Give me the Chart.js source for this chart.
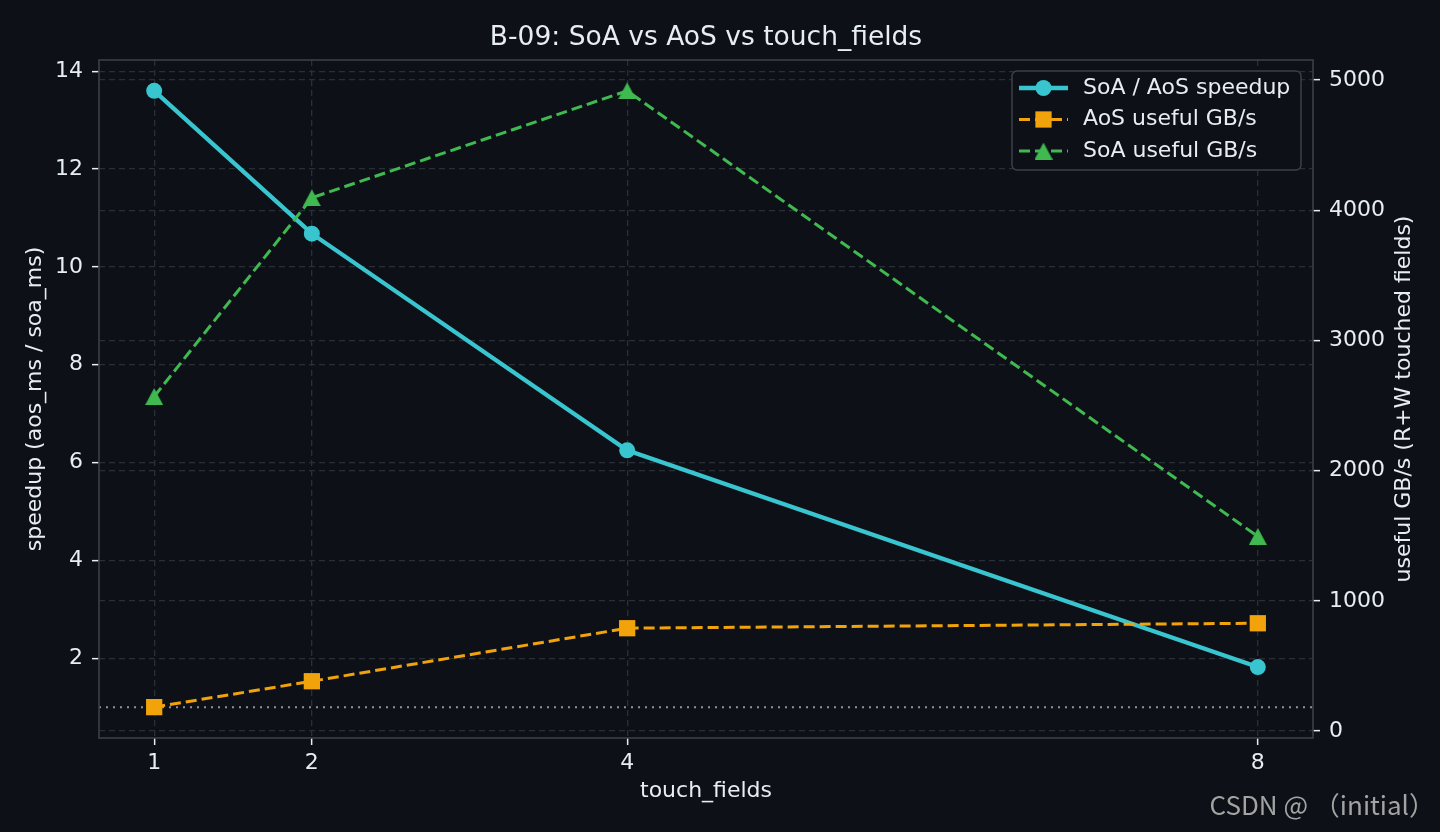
<!DOCTYPE html>
<html lang="en">
<head>
<meta charset="UTF-8">
<title>B-09: SoA vs AoS vs touch_fields</title>
<script src="https://cdn.jsdelivr.net/npm/chart.js"></script>
<style>
    html, body { margin: 0; padding: 0; background: #0d1117; }
    #grafico { display: block; }
</style>
</head>
<body>
<canvas id="grafico" width="1440" height="832"></canvas>

<script>
    // data
    const touchFields = [1, 2, 4, 8];
    const speedup = [13.6, 10.68, 6.25, 1.82];
    const aosGBs = [184, 383, 790, 828];
    const soaGBs = [2569, 4095, 4916, 1495];

    const xTicks = [1, 2, 4, 8];
    const leftTicks = [2, 4, 6, 8, 10, 12, 14];
    const rightTicks = [0, 1000, 2000, 3000, 4000, 5000];
    const baseline = 1;

    const BG = '#0d1117';
    const TXT = '#e6edf3';
    const GRID = '#2a2f37';
    const SPINE = '#3b4048';
    const CYAN = '#39c5cf';
    const ORANGE = '#f2a30c';
    const GREEN = '#3fb950';
    const FONT = 'DejaVu Sans';

    // matplotlib style "^" marker
    const tri = document.createElement('canvas');
    tri.width = 18; tri.height = 17;
    const tctx = tri.getContext('2d');
    tctx.fillStyle = GREEN;
    tctx.beginPath();
    tctx.moveTo(9, 0); tctx.lineTo(18, 17); tctx.lineTo(0, 17);
    tctx.closePath(); tctx.fill();

    const pares = (ys) => touchFields.map((x, i) => ({ x: x, y: ys[i] }));

    const tickFont = { family: FONT, size: 22 };

    function eixoGrid() {
        return {
            color: GRID,
            lineWidth: 1.3,
            drawTicks: true,
            tickLength: 7,
            tickWidth: 1.5,
            tickColor: TXT,
            tickBorderDash: []
        };
    }

    const enfeites = {
        id: 'enfeites',
        beforeDraw(chart) {
            const ctx = chart.ctx;
            ctx.save();
            ctx.fillStyle = BG;
            ctx.fillRect(0, 0, chart.width, chart.height);
            ctx.restore();
        },
        beforeDatasetsDraw(chart) {
            const ctx = chart.ctx;
            const a = chart.chartArea;
            const y = chart.scales.yL.getPixelForValue(baseline);
            ctx.save();
            ctx.strokeStyle = '#8b949e';
            ctx.lineWidth = 2;
            ctx.setLineDash([2, 5]);
            ctx.beginPath();
            ctx.moveTo(a.left, y);
            ctx.lineTo(a.right, y);
            ctx.stroke();
            ctx.restore();
        },
        afterDraw(chart) {
            const ctx = chart.ctx;
            const a = chart.chartArea;
            ctx.save();

            // frame
            ctx.strokeStyle = SPINE;
            ctx.lineWidth = 1.6;
            ctx.strokeRect(a.left, a.top, a.right - a.left, a.bottom - a.top);

            // title
            ctx.fillStyle = TXT;
            ctx.font = '26.5px "' + FONT + '"';
            ctx.textAlign = 'center';
            ctx.textBaseline = 'middle';
            ctx.fillText('B-09: SoA vs AoS vs touch_fields', (a.left + a.right) / 2, 38);

            // right axis title (reads bottom to top, like matplotlib)
            ctx.font = '22px "' + FONT + '"';
            ctx.translate(1404, (a.top + a.bottom) / 2);
            ctx.rotate(-Math.PI / 2);
            ctx.fillText('useful GB/s (R+W touched fields)', 0, 0);
            ctx.setTransform(1, 0, 0, 1, 0, 0);

            // legend
            const lx = 1012, ly = 71, lw = 289, lh = 99;
            ctx.fillStyle = BG;
            ctx.strokeStyle = SPINE;
            ctx.lineWidth = 1.5;
            ctx.beginPath();
            ctx.roundRect(lx, ly, lw, lh, 5);
            ctx.fill();
            ctx.stroke();

            const linhas = [88, 119.5, 151];
            chart.data.datasets.forEach((ds, i) => {
                const y = linhas[i];
                ctx.strokeStyle = ds.borderColor;
                ctx.lineWidth = ds.borderWidth;
                ctx.setLineDash(ds.borderDash || []);
                ctx.beginPath();
                ctx.moveTo(1019, y);
                ctx.lineTo(1068, y);
                ctx.stroke();
                ctx.setLineDash([]);
                ctx.fillStyle = ds.borderColor;
                if (ds.pointStyle === 'circle') {
                    ctx.beginPath();
                    ctx.arc(1043.5, y, ds.pointRadius, 0, Math.PI * 2);
                    ctx.fill();
                } else if (ds.pointStyle === 'rect') {
                    const s = ds.pointRadius * Math.SQRT1_2;
                    ctx.fillRect(1043.5 - s, y - s, 2 * s, 2 * s);
                } else {
                    ctx.drawImage(ds.pointStyle, 1043.5 - tri.width / 2, y - tri.height / 2);
                }
                ctx.fillStyle = TXT;
                ctx.font = '22px "' + FONT + '"';
                ctx.textAlign = 'left';
                ctx.textBaseline = 'middle';
                ctx.fillText(ds.label, 1083, y);
            });

            // watermark
            ctx.fillStyle = '#a3a3a3';
            ctx.font = '26px "Noto Sans CJK SC"';
            ctx.textAlign = 'right';
            ctx.textBaseline = 'alphabetic';
            ctx.fillText('CSDN @ （initial）', 1435, 815);

            ctx.restore();
        }
    };

    new Chart(document.getElementById('grafico'), {
        type: 'line',
        data: {
            datasets: [{
                label: 'SoA / AoS speedup',
                data: pares(speedup),
                yAxisID: 'yL',
                borderColor: CYAN,
                backgroundColor: CYAN,
                borderWidth: 4.3,
                pointStyle: 'circle',
                pointRadius: 8,
                pointBorderWidth: 0,
                order: 3
            }, {
                label: 'AoS useful GB/s',
                data: pares(aosGBs),
                yAxisID: 'yR',
                borderColor: ORANGE,
                backgroundColor: ORANGE,
                borderWidth: 3,
                borderDash: [11, 5],
                pointStyle: 'rect',
                pointRadius: 11.5,
                pointBorderWidth: 0,
                order: 2
            }, {
                label: 'SoA useful GB/s',
                data: pares(soaGBs),
                yAxisID: 'yR',
                borderColor: GREEN,
                backgroundColor: GREEN,
                borderWidth: 3,
                borderDash: [11, 5],
                pointStyle: tri,
                pointRadius: 9,
                pointBorderWidth: 0,
                order: 1
            }]
        },
        options: {
            responsive: false,
            animation: false,
            devicePixelRatio: 1,
            layout: { padding: { top: 60, left: 0, right: 0, bottom: 0 } },
            plugins: {
                legend: { display: false },
                tooltip: { enabled: false },
                title: { display: false }
            },
            scales: {
                x: {
                    type: 'linear',
                    min: 0.65,
                    max: 8.35,
                    afterBuildTicks: (s) => { s.ticks = xTicks.map(v => ({ value: v })); },
                    afterFit: (s) => { s.height = 94; },
                    ticks: { color: TXT, font: tickFont, padding: 5, maxRotation: 0 },
                    grid: eixoGrid(),
                    border: { display: false, dash: [6, 4] },
                    title: {
                        display: true,
                        text: 'touch_fields',
                        color: TXT,
                        font: { family: FONT, size: 22 },
                        padding: { top: 0, bottom: 28 }
                    }
                },
                yL: {
                    type: 'linear',
                    position: 'left',
                    min: 0.37,
                    max: 14.23,
                    afterBuildTicks: (s) => { s.ticks = leftTicks.map(v => ({ value: v })); },
                    afterFit: (s) => { s.width = 99; },
                    ticks: { color: TXT, font: tickFont, padding: 9 },
                    grid: eixoGrid(),
                    border: { display: false, dash: [6, 4] },
                    title: {
                        display: true,
                        text: 'speedup (aos_ms / soa_ms)',
                        color: TXT,
                        font: { family: FONT, size: 22 },
                        padding: { top: 22, bottom: 0 }
                    }
                },
                yR: {
                    type: 'linear',
                    position: 'right',
                    min: -53,
                    max: 5153,
                    afterBuildTicks: (s) => { s.ticks = rightTicks.map(v => ({ value: v })); },
                    afterFit: (s) => { s.width = 127; },
                    ticks: { color: TXT, font: tickFont, padding: 9, callback: (v) => String(v) },
                    grid: eixoGrid(),
                    border: { display: false, dash: [6, 4] }
                }
            }
        },
        plugins: [enfeites]
    });
</script>
</body>
</html>
